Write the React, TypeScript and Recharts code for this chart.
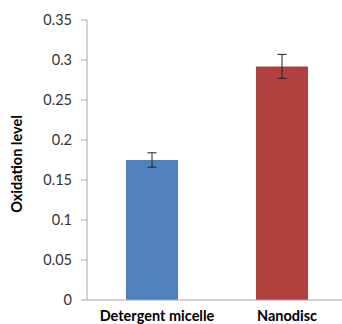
import { BarChart, Bar, XAxis, YAxis, ErrorBar, Cell } from "recharts";

const categories = ["Detergent micelle", "Nanodisc"];
const values = [0.175, 0.292];
const errors = [0.009, 0.015];
const barColors = ["#4F81BD", "#B0413E"];
const yTicks = [0, 0.05, 0.1, 0.15, 0.2, 0.25, 0.3, 0.35];

const data = categories.map((name, i) => ({ name, value: values[i], err: errors[i] }));

const FONT = "Lato, 'Open Sans', sans-serif";
const AXIS_COLOR = "#A6A6A6";

export default function App() {
  return (
    <div style={{ position: "absolute", left: 0, top: 0, background: "#fff", fontFamily: FONT }}>
      <BarChart
        width={342}
        height={324}
        data={data}
        margin={{ top: 20, right: -5, left: 0, bottom: 0 }}
        barCategoryGap="30%"
      >
        <XAxis
          dataKey="name"
          height={24}
          tickLine={false}
          axisLine={{ stroke: AXIS_COLOR }}
          tick={{ fontSize: 14.5, fontWeight: 700, fill: "#000", fontFamily: FONT, dx: 5 }}
          tickMargin={5}
          interval={0}
        />
        <YAxis
          width={87}
          domain={[0, 0.35]}
          ticks={yTicks}
          tickFormatter={(v) => `${v}`}
          axisLine={{ stroke: AXIS_COLOR }}
          tickLine={{ stroke: AXIS_COLOR }}
          tickSize={6}
          tickMargin={9}
          tick={{ fontSize: 14.5, fill: "#333", fontFamily: FONT }}
          label={{
            value: "Oxidation level",
            angle: -90,
            position: "insideLeft",
            offset: 0,
            dx: 17,
            dy: 4,
            style: { fontSize: 14.5, fontWeight: 700, fill: "#000", fontFamily: FONT, textAnchor: "middle" },
          }}
        />
        <Bar dataKey="value" isAnimationActive={false}>
          {data.map((d, i) => (
            <Cell key={d.name} fill={barColors[i]} />
          ))}
          <ErrorBar dataKey="err" width={4.5} stroke="#222" strokeWidth={1} />
        </Bar>
      </BarChart>
    </div>
  );
}
